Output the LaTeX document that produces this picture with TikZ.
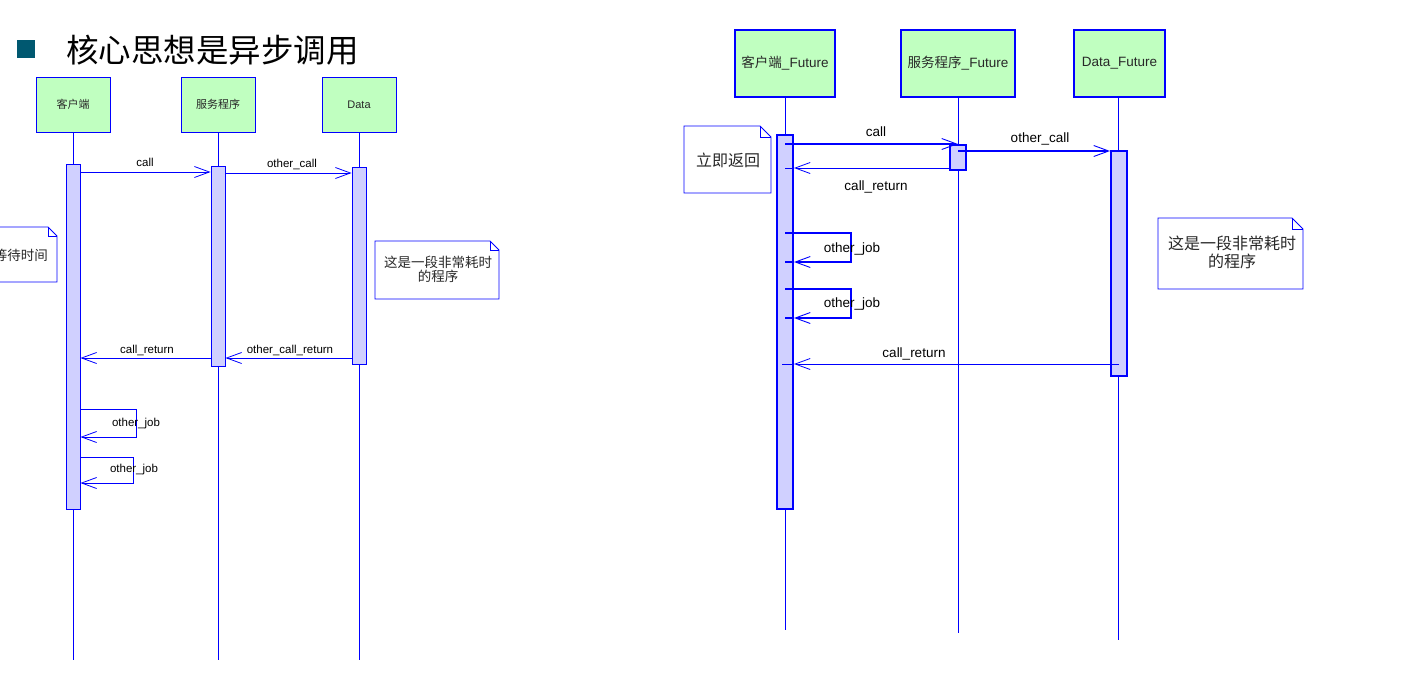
\documentclass[tikz,border=0pt]{standalone}
\usepackage{fontspec}
\setmainfont{Liberation Sans}
\newfontfamily\cjk{Noto Sans CJK SC}
\usetikzlibrary{arrows.meta}
\definecolor{objgreen}{RGB}{192,255,192}
\definecolor{actblue}{RGB}{208,208,255}
\definecolor{titlesq}{RGB}{0,88,112}
\definecolor{txt}{RGB}{40,40,40}
\tikzset{
  obj/.style={draw=blue, fill=objgreen, line width=0.9pt, inner sep=0pt, text=txt, font=\fontsize{11}{13}\selectfont},
  objF/.style={obj, line width=2.4pt, font=\fontsize{13.5}{15}\selectfont},
  life/.style={draw=blue, line width=0.8pt},
  act/.style={draw=blue, fill=actblue, line width=0.9pt, inner sep=0pt, minimum width=14pt},
  actF/.style={act, line width=2pt, minimum width=16pt},
  msg/.style={draw=blue, line width=0.8pt, -{Straight Barb[length=15pt,width=11pt,line width=0.8pt]}},
  msgF/.style={draw=blue, line width=2.6pt, -{Straight Barb[length=15pt,width=11pt,line width=0.9pt]}},
  lbl/.style={text=black, font=\fontsize{11.5}{13}\selectfont, inner sep=0pt},
  lblF/.style={text=black, font=\fontsize{13.5}{15}\selectfont, inner sep=0pt},
  notetext/.style={text=txt, align=center, inner sep=0pt},
  notebox/.style={draw=blue, fill=white, line width=0.9pt},
}
\newcommand{\notepath}[5]{% x1 y1 x2 y2 fold
  \fill[white] (#1,#2) -- (#3-#5,#2) -- (#3,#2+#5) -- (#3,#4) -- (#1,#4) -- cycle;
  \draw[notebox] (#1,#2) -- (#3-#5,#2) -- (#3,#2+#5) -- (#3,#4) -- (#1,#4) -- cycle;
  \draw[blue, line width=0.9pt] (#3-#5,#2) -- (#3-#5,#2+#5) -- (#3,#2+#5);
}
\begin{document}
\begin{tikzpicture}[x=1pt,y=-1pt]
\useasboundingbox[fill=white] (0,0) rectangle (1419,678);

% ---------- title ----------
\node[fill=titlesq, minimum size=18pt, inner sep=0pt] (tsq) at (26,49) {};
\node[anchor=west, inner sep=0pt, font=\cjk\fontsize{32.5}{35}\selectfont] (title) at (66,50) {核心思想是异步调用};

% ---------- left diagram ----------
\node[obj, minimum width=74pt, minimum height=55pt] (bC) at (73,104.5) {\cjk 客户端};
\node[obj, minimum width=74pt, minimum height=55pt] (bS) at (218,104.5) {\cjk 服务程序};
\node[obj, minimum width=74pt, minimum height=55pt] (bD) at (359,104.5) {Data};

\coordinate (eC) at (73,660);
\coordinate (eS) at (218,660);
\coordinate (eD) at (359,660);
\draw[life] (bC.south) -- (eC);
\draw[life] (bS.south) -- (eS);
\draw[life] (bD.south) -- (eD);

\node[act, minimum height=345pt, anchor=north] (aC) at (73,164) {};
\node[act, minimum height=200pt, anchor=north] (aS) at (218,166) {};
\node[act, minimum height=197pt, anchor=north] (aD) at (359,167) {};

\draw[msg] (aC.east |- 0,172) -- (aS.west |- 0,172);
\node[lbl] (lcall) at (145,162) {call};
\draw[msg] (aS.east |- 0,173) -- (aD.west |- 0,173);
\node[lbl] (locall) at (292,164) {other\_call};

\draw[msg] (aS.west |- 0,358) -- (aC.east |- 0,358);
\node[lbl] (lret) at (147,350) {call\_return};
\draw[msg] (aD.west |- 0,358) -- (aS.east |- 0,358);
\node[lbl] (loret) at (290,350) {other\_call\_return};

\draw[msg] (aC.east |- 0,409) -| (136,437) -- (aC.east |- 0,437);
\node[lbl] (ljob1) at (136,424) {other\_job};
\draw[msg] (aC.east |- 0,457) -| (133,483) -- (aC.east |- 0,483);
\node[lbl] (ljob2) at (134,470) {other\_job};

% notes (left)
\notepath{-15}{227}{57}{282}{9}
\node[notetext, font=\cjk\fontsize{13.5}{15}\selectfont] (nWait) at (21,255) {等待时间};
\notepath{375}{241}{499}{299}{9}
\node[notetext, font=\cjk\fontsize{13.5}{14}\selectfont] (nLong) at (438,269.5) {这是一段非常耗时\\的程序};

% ---------- right diagram ----------
\node[objF, minimum width=100pt, minimum height=67pt] (bCF) at (785,63.5) {{\cjk 客户端}\_Future};
\node[objF, minimum width=114pt, minimum height=67pt] (bSF) at (958,63.5) {{\cjk 服务程序}\_Future};
\node[objF, minimum width=91pt, minimum height=67pt] (bDF) at (1119.5,63.5) {Data\_Future};

\coordinate (eCF) at (785,630);
\coordinate (eSF) at (958,633);
\coordinate (eDF) at (1118,640);
\draw[life] (bCF.south) -- (eCF);
\draw[life] (bSF.south) -- (eSF);
\draw[life] (bDF.south -| eDF) -- (eDF);

\node[actF, minimum height=374pt, anchor=north] (aCF) at (785,134) {};
\node[act, line width=1.5pt, minimum width=16pt, minimum height=25pt, anchor=north] (aSF) at (958,144) {};
\node[actF, minimum height=225pt, anchor=north] (aDF) at (1119,150) {};

% call / other_call
\draw[msgF] (aCF.center |- 0,144) -- (aSF.center |- 0,144);
\node[lblF] (lcallF) at (876,132) {call};
\draw[msgF] (aSF.center |- 0,151) -- (aDF.west |- 0,151);
\node[lblF] (locallF) at (1040,139) {other\_call};

% call_return (upper)
\draw[msg] (aSF.west |- 0,168) -- (aCF.east |- 0,168);
\draw[blue, line width=0.8pt] (aCF.east |- 0,168) -- (aCF.center |- 0,168);
\node[lblF] (lretF) at (876,187) {call\_return};

% self loops
\draw[msgF] (aCF.center |- 0,233) -| (851,262) -- (aCF.east |- 0,262);
\draw[blue, line width=2.6pt] (aCF.east |- 0,262) -- (aCF.center |- 0,262);
\node[lblF] (ljobF1) at (852,249.5) {other\_job};
\draw[msgF] (aCF.center |- 0,289) -| (851,318) -- (aCF.east |- 0,318);
\draw[blue, line width=2.6pt] (aCF.east |- 0,318) -- (aCF.center |- 0,318);
\node[lblF] (ljobF2) at (852,304.5) {other\_job};

% call_return (lower)
\draw[msg] (aDF.center |- 0,364) -- (aCF.east |- 0,364);
\draw[blue, line width=0.8pt] (aCF.east |- 0,364) -- (782,364);
\node[lblF] (lretF2) at (914,354) {call\_return};

% notes (right)
\notepath{684}{126}{771}{193}{11}
\node[notetext, font=\cjk\fontsize{16}{18}\selectfont] (nNow) at (728,160) {立即返回};
\notepath{1158}{218}{1303}{289}{11}
\node[notetext, font=\cjk\fontsize{16}{18}\selectfont] (nLongF) at (1232,252) {这是一段非常耗时\\的程序};
\end{tikzpicture}
\end{document}
